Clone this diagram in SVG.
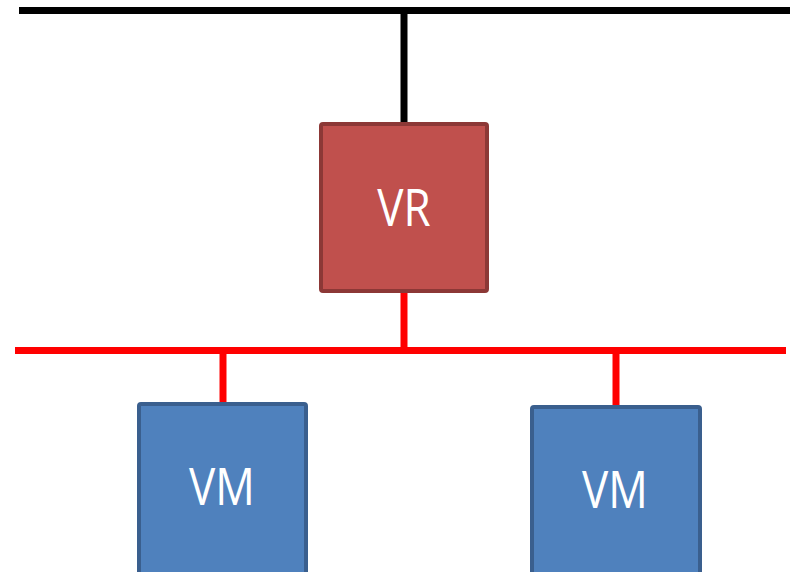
<svg xmlns="http://www.w3.org/2000/svg" width="796" height="572" viewBox="0 0 796 572">
<style>
.lbl{font-family:"Open Sans","Liberation Sans",sans-serif;font-size:44px;fill:#ffffff;text-anchor:middle}
.vr{fill:#C0504D;stroke:#8C3836;stroke-width:4}
.vm{fill:#4F81BD;stroke:#3A5F8E;stroke-width:4}
.blk{stroke:#000000;stroke-width:7;fill:none}
.red{stroke:#FF0000;stroke-width:7;fill:none}
</style>
<rect width="796" height="572" fill="#ffffff"/>
<g id="connectors">
<line class="blk" x1="19" y1="10.5" x2="790" y2="10.5"/>
<line class="blk" x1="404" y1="10" x2="404" y2="124"/>
<line class="red" x1="15" y1="350.5" x2="786" y2="350.5"/>
<line class="red" x1="404" y1="292" x2="404" y2="350"/>
<line class="red" x1="223" y1="350" x2="223" y2="404"/>
<line class="red" x1="616" y1="350" x2="616" y2="407"/>
</g>
<g id="vr">
<rect class="vr" x="321" y="124" width="166" height="167" rx="2"/>
<text class="lbl" transform="translate(404,226) scale(1,1.17)" x="0" y="0">VR</text>
</g>
<g id="vm1">
<rect class="vm" x="139" y="404" width="167" height="180" rx="2"/>
<text class="lbl" transform="translate(222,505) scale(1,1.17)" x="0" y="0">VM</text>
</g>
<g id="vm2">
<rect class="vm" x="532" y="407" width="168" height="180" rx="2"/>
<text class="lbl" transform="translate(615,508) scale(1,1.17)" x="0" y="0">VM</text>
</g>
</svg>
